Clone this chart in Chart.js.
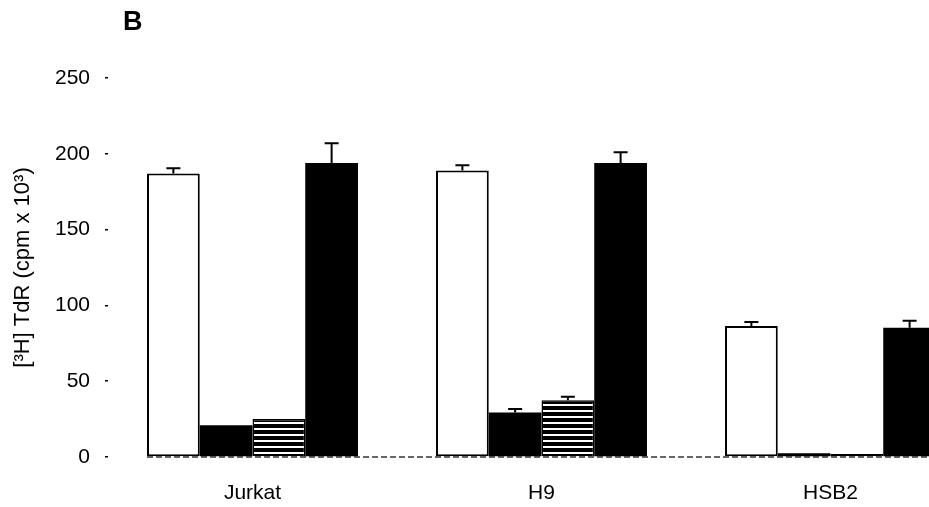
<!DOCTYPE html>
<html>
<head>
<meta charset="utf-8">
<script src="https://cdn.jsdelivr.net/npm/chart.js@4"></script>
<style>
  html, body { margin: 0; padding: 0; background: #fff; overflow: hidden; }
  #painel { position: absolute; left: 0; top: 0; width: 985px; height: 507px; }
  #letra { position: absolute; left: 123px; top: 6px; font: bold 27px "Liberation Sans", Arial, sans-serif; color: #000; }
</style>
</head>
<body>
<div id="painel"><canvas id="grafico-tdr"></canvas></div>
<div id="letra">B</div>
<script>
// Dados
const celulas = ['Jurkat', 'H9', 'HSB2'];
const ticksY = [0, 50, 100, 150, 200, 250];

const controle = [187, 189, 86.4];
const controleErro = [3.5, 3.5, 2.6];

const tratadoA = [21, 29.4, 2.5];
const tratadoAErro = [0, 2.2, 0];

const tratadoB = [25, 37.5, 2];
const tratadoBErro = [0, 2.3, 0];

const tratadoC = [194, 194, 85.3];
const tratadoCErro = [13, 7, 4.5];

const erros = [controleErro, tratadoAErro, tratadoBErro, tratadoCErro];

// Padrão listrado (preto com linhas brancas horizontais)
function criarListras() {
    const c = document.createElement('canvas');
    c.width = 8;
    c.height = 6;
    const g = c.getContext('2d');
    g.fillStyle = '#000';
    g.fillRect(0, 0, 8, 6);
    g.fillStyle = '#fff';
    g.fillRect(0, 2, 8, 2);
    return g.createPattern(c, 'repeat');
}

const fonte = { family: '"Liberation Sans", Arial, sans-serif', size: 21 };

// Barras de erro (só para cima)
const barrasErro = {
    id: 'barrasErro',
    afterDatasetsDraw(chart) {
        const ctx = chart.ctx;
        const y = chart.scales.y;
        ctx.save();
        ctx.strokeStyle = '#000';
        ctx.lineWidth = 2;
        chart.data.datasets.forEach((ds, i) => {
            const meta = chart.getDatasetMeta(i);
            meta.data.forEach((bar, j) => {
                const e = erros[i][j];
                if (!e) return;
                const topo = y.getPixelForValue(ds.data[j] + e);
                ctx.beginPath();
                ctx.moveTo(bar.x, bar.y);
                ctx.lineTo(bar.x, topo);
                ctx.moveTo(bar.x - 7, topo);
                ctx.lineTo(bar.x + 7, topo);
                ctx.stroke();
            });
        });
        ctx.restore();
    }
};

// Linha de base tracejada a partir da primeira barra
const linhaBase = {
    id: 'linhaBase',
    beforeDatasetsDraw(chart) {
        const ctx = chart.ctx;
        const primeira = chart.getDatasetMeta(0).data[0];
        const y0 = chart.scales.y.getPixelForValue(0);
        ctx.save();
        ctx.strokeStyle = '#333';
        ctx.lineWidth = 1.5;
        ctx.setLineDash([6, 3]);
        ctx.beginPath();
        ctx.moveTo(primeira.x - primeira.width / 2, y0);
        ctx.lineTo(chart.chartArea.right, y0);
        ctx.stroke();
        ctx.restore();
    }
};

const ctx = document.getElementById('grafico-tdr').getContext('2d');
const listras = criarListras();

new Chart(ctx, {
    type: 'bar',
    data: {
        labels: celulas,
        datasets: [
            { label: 'Controle', data: controle, backgroundColor: '#fff', borderColor: '#000', borderWidth: 2, borderSkipped: false },
            { label: 'A', data: tratadoA, backgroundColor: '#000', borderColor: '#000', borderWidth: 0 },
            { label: 'B', data: tratadoB, backgroundColor: listras, borderColor: '#000', borderWidth: 1.5, borderSkipped: 'bottom' },
            { label: 'C', data: tratadoC, backgroundColor: '#000', borderColor: '#000', borderWidth: 0 }
        ]
    },
    options: {
        responsive: true,
        maintainAspectRatio: false,
        animation: false,
        layout: { padding: { top: 78, right: 10, bottom: 0, left: 0 } },
        datasets: { bar: { barPercentage: 1, categoryPercentage: 0.73 } },
        plugins: {
            legend: { display: false },
            tooltip: { enabled: false }
        },
        scales: {
            x: {
                grid: { display: false, drawTicks: false },
                border: { display: false },
                ticks: { color: '#000', font: fonte, padding: 24 },
                afterFit(scale) { scale.height = 50; }
            },
            y: {
                min: 0,
                max: 250,
                afterBuildTicks(scale) { scale.ticks = ticksY.map(v => ({ value: v })); },
                grid: { drawOnChartArea: false, drawTicks: true, tickLength: 3, color: '#000', lineWidth: 1.5 },
                border: { display: false },
                ticks: { color: '#000', font: fonte, padding: 15 },
                title: {
                    display: true,
                    text: '[³H] TdR (cpm x 10³)',
                    color: '#000',
                    font: { family: fonte.family, size: 22 },
                    padding: { top: 10, bottom: 0 }
                },
                afterFit(scale) { scale.width = 108; }
            }
        }
    },
    plugins: [linhaBase, barrasErro]
});
</script>
</body>
</html>
